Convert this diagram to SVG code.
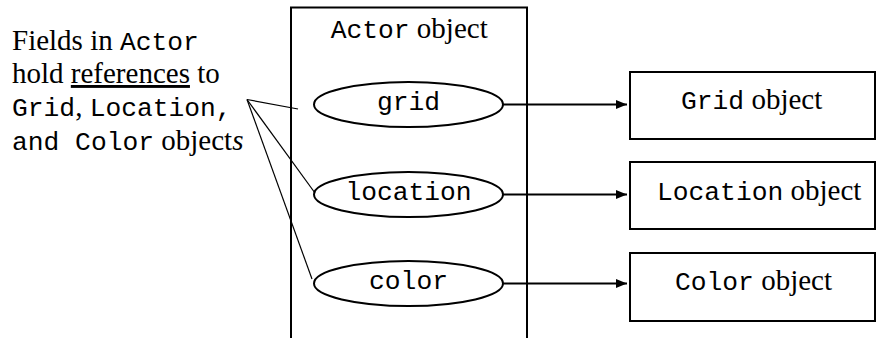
<svg xmlns="http://www.w3.org/2000/svg" width="877" height="338" viewBox="0 0 877 338">
  <style>
    .serif { font-family: "Liberation Serif", "Times New Roman", serif; font-size: 29px; fill: #000; }
    .mono { font-family: "Liberation Mono", "Courier New", monospace; font-size: 26.3px; fill: #000; }
    .box { fill: #fff; stroke: #000; stroke-width: 2; }
    .field { fill: #fff; stroke: #000; stroke-width: 2; }
    .pointer { fill: none; stroke: #000; stroke-width: 1.2; }
    .ref { fill: none; stroke: #000; stroke-width: 2.2; marker-end: url(#head); }
  </style>
  <defs>
    <marker id="head" markerWidth="12" markerHeight="10" refX="11" refY="4.5" orient="auto" markerUnits="userSpaceOnUse">
      <path d="M0,0 L11,4.5 L0,9 Z" fill="#000"/>
    </marker>
  </defs>

  <rect width="877" height="338" fill="#fff"/>

  <!-- explanatory caption -->
  <g id="caption">
    <text class="serif" x="12" y="50">Fields in <tspan class="mono">Actor</tspan></text>
    <text class="serif" x="12" y="83">hold <tspan text-decoration="underline">references</tspan> to</text>
    <text class="serif" x="12" y="116"><tspan class="mono">Grid</tspan>, <tspan class="mono">Location,</tspan></text>
    <text class="serif" x="12" y="149.5"><tspan class="mono">and Color</tspan> object<tspan font-style="italic">s</tspan></text>
  </g>

  <!-- the Actor object, open at the bottom -->
  <g id="actor">
    <path class="box" d="M291,345 V7.5 H527 V345" fill="none"/>
    <text class="serif" x="330.7" y="38"><tspan class="mono">Actor</tspan> object</text>
  </g>

  <g id="field-grid">
    <ellipse class="field" cx="408.5" cy="104.5" rx="94.5" ry="22.5"/>
    <text class="mono" x="408.5" y="110" text-anchor="middle">grid</text>
  </g>
  <g id="field-location">
    <ellipse class="field" cx="408.5" cy="194.5" rx="94.5" ry="22.5"/>
    <text class="mono" x="408.5" y="200" text-anchor="middle">location</text>
  </g>
  <g id="field-color">
    <ellipse class="field" cx="408.5" cy="283.5" rx="94.5" ry="22.5"/>
    <text class="mono" x="408.5" y="289" text-anchor="middle">color</text>
  </g>

  <!-- referenced objects -->
  <g id="grid-object">
    <rect class="box" x="630" y="72" width="245" height="67" stroke-width="1.6"/>
    <text class="serif" x="681" y="109"><tspan class="mono">Grid</tspan> object</text>
  </g>
  <g id="location-object">
    <rect class="box" x="630" y="162" width="245" height="67" stroke-width="1.6"/>
    <text class="serif" x="657" y="200"><tspan class="mono">Location</tspan> object</text>
  </g>
  <g id="color-object">
    <rect class="box" x="630" y="253" width="245" height="68" stroke-width="1.6"/>
    <text class="serif" x="675" y="290"><tspan class="mono">Color</tspan> object</text>
  </g>

  <!-- connectors -->
  <g id="connectors">
    <line class="ref" x1="503" y1="104.5" x2="627" y2="104.5"/>
    <line class="ref" x1="503" y1="194.5" x2="627" y2="194.5"/>
    <line class="ref" x1="503" y1="283.5" x2="627" y2="283.5"/>
    <line class="pointer" x1="247" y1="99.5" x2="298" y2="109"/>
    <line class="pointer" x1="247" y1="99.5" x2="315" y2="193"/>
    <line class="pointer" x1="247" y1="99.5" x2="312" y2="279"/>
  </g>
</svg>
